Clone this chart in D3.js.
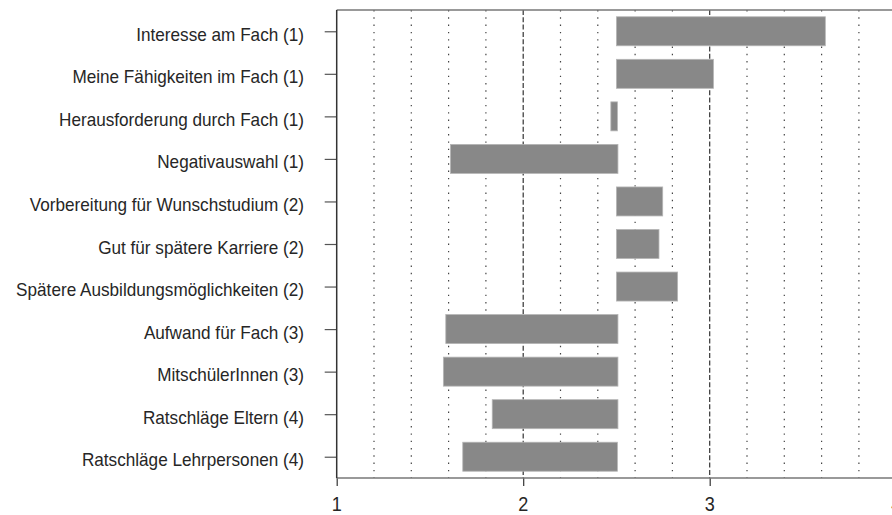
<!DOCTYPE html>
<html>
<head>
<meta charset="utf-8">
<script src="https://cdn.jsdelivr.net/npm/d3@7"></script>
<style>
  html, body { margin: 0; padding: 0; background: #fff; }
  svg { display: block; }
  text { font-family: "Liberation Sans", Arial, sans-serif; fill: #262626; }
</style>
</head>
<body>
<svg id="chart" width="892" height="515"></svg>
<script>
// ---- data ----
const categories = [
  "Interesse am Fach (1)",
  "Meine Fähigkeiten im Fach (1)",
  "Herausforderung durch Fach (1)",
  "Negativauswahl (1)",
  "Vorbereitung für Wunschstudium (2)",
  "Gut für spätere Karriere (2)",
  "Spätere Ausbildungsmöglichkeiten (2)",
  "Aufwand für Fach (3)",
  "MitschülerInnen (3)",
  "Ratschläge Eltern (4)",
  "Ratschläge Lehrpersonen (4)"
];
const barStart = [2.50, 2.50, 2.47, 1.61, 2.50, 2.50, 2.50, 1.585, 1.572, 1.834, 1.676];
const barEnd   = [3.62, 3.02, 2.505, 2.508, 2.748, 2.728, 2.828, 2.508, 2.508, 2.508, 2.505];
const xTicks = [1, 2, 3, 4];
const xDotted = [1.2, 1.4, 1.6, 1.8, 2.2, 2.4, 2.6, 2.8, 3.2, 3.4, 3.6, 3.8];
const xDashed = [2, 3];

// ---- layout ----
const svg = d3.select("#chart");
const plotLeft = 336.7, plotTop = 10, plotBottom = 478;
const x = d3.scaleLinear().domain([1, 4]).range([plotLeft, plotLeft + 3 * 186.5]);
const y = d3.scalePoint().domain(categories).range([plotTop, plotBottom]).padding(0.5);
const barH = 29;

// gridlines
svg.append("g").selectAll("line").data(xDotted).join("line")
  .attr("x1", d => x(d)).attr("x2", d => x(d))
  .attr("y1", plotTop).attr("y2", plotBottom)
  .attr("stroke", "#444").attr("stroke-width", 1.2)
  .attr("stroke-dasharray", "1.4,5.9");
svg.append("g").selectAll("line").data(xDashed).join("line")
  .attr("x1", d => x(d)).attr("x2", d => x(d))
  .attr("y1", plotTop).attr("y2", plotBottom)
  .attr("stroke", "#333").attr("stroke-width", 1.2)
  .attr("stroke-dasharray", "5,2.3");

// bars
svg.append("g").selectAll("rect").data(categories).join("rect")
  .attr("x", (d, i) => x(barStart[i]))
  .attr("width", (d, i) => x(barEnd[i]) - x(barStart[i]))
  .attr("y", d => y(d) - barH / 2)
  .attr("height", barH)
  .attr("fill", "#888888")
  .attr("stroke", "#b5b5b5").attr("stroke-width", 0.8);

// frame lines
svg.append("line").attr("x1", plotLeft).attr("x2", 892).attr("y1", plotTop).attr("y2", plotTop)
  .attr("stroke", "#777").attr("stroke-width", 1.5);

// x axis
const xAxis = svg.append("g").attr("transform", `translate(0,${plotBottom})`)
  .call(d3.axisBottom(x).tickValues(xTicks).tickFormat(d3.format("d")).tickSize(8).tickPadding(0));
xAxis.select(".domain").remove();
xAxis.selectAll(".tick line").attr("stroke", "#333").attr("stroke-width", 1.2);
xAxis.selectAll(".tick text").remove();
svg.append("line").attr("x1", plotLeft).attr("x2", 892).attr("y1", plotBottom).attr("y2", plotBottom)
  .attr("stroke", "#777").attr("stroke-width", 1.5);

// y axis
const yAxis = svg.append("g").attr("transform", `translate(${plotLeft},0)`)
  .call(d3.axisLeft(y).tickSize(12).tickFormat(""));
yAxis.select(".domain").remove();
yAxis.selectAll(".tick line").attr("stroke", "#555").attr("stroke-width", 1.2);
svg.append("line").attr("x1", plotLeft).attr("x2", plotLeft).attr("y1", plotTop).attr("y2", plotBottom)
  .attr("stroke", "#333").attr("stroke-width", 1.5);

// condensed text helper: measure and compress horizontally
const probe = svg.append("text").attr("font-size", 19).text(categories[6]);
const sx = 288 / probe.node().getComputedTextLength();
probe.remove();

// y labels
const labelRight = 304;
svg.append("g").selectAll("text").data(categories).join("text")
  .attr("transform", d => `translate(${labelRight},${y(d) + 9.5}) scale(${sx},1)`)
  .attr("text-anchor", "end")
  .attr("font-size", 19)
  .text(d => d);

// x tick labels
svg.append("g").selectAll("text").data(xTicks).join("text")
  .attr("transform", d => `translate(${x(d)},${511}) scale(${sx},1)`)
  .attr("text-anchor", "middle")
  .attr("font-size", 20)
  .text(d => d);
</script>
</body>
</html>
